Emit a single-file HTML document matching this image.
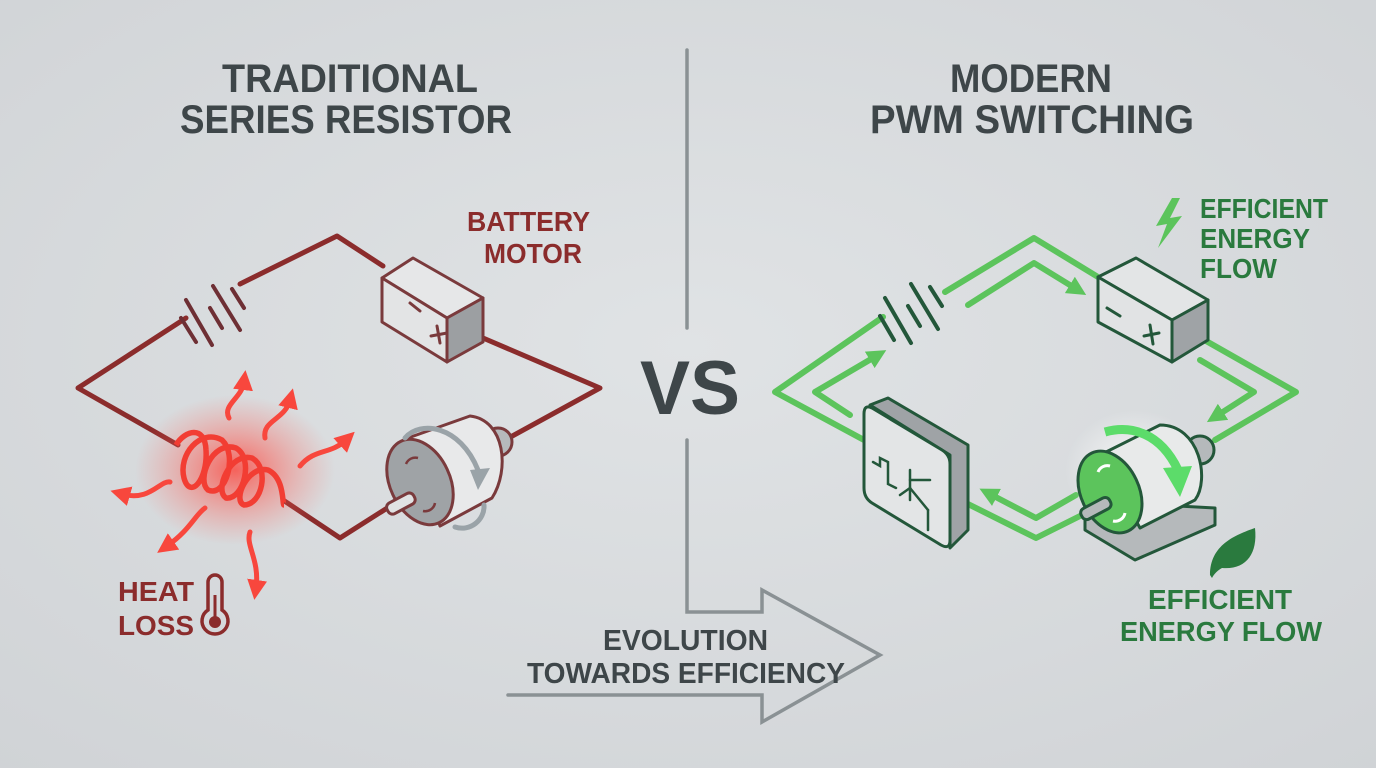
<!DOCTYPE html>
<html><head><meta charset="utf-8"><style>
html,body{margin:0;padding:0;}
body{width:1376px;height:768px;overflow:hidden;background:#d8dbdd;}
svg{display:block;}
text{font-family:"Liberation Sans",sans-serif;font-weight:bold;}
</style></head><body>
<svg width="1376" height="768" viewBox="0 0 1376 768" xmlns="http://www.w3.org/2000/svg">
<defs>
<radialGradient id="bg" cx="50%" cy="45%" r="75%">
<stop offset="0" stop-color="#e0e3e5"/><stop offset="1" stop-color="#d0d3d6"/>
</radialGradient>
<radialGradient id="glow" cx="50%" cy="50%" r="50%">
<stop offset="0" stop-color="#ff3a30" stop-opacity="0.75"/><stop offset="0.6" stop-color="#ff5a50" stop-opacity="0.3"/><stop offset="1" stop-color="#ff6a60" stop-opacity="0"/>
</radialGradient>
<radialGradient id="gglow" cx="50%" cy="50%" r="50%">
<stop offset="0" stop-color="#ffffff" stop-opacity="0.8"/><stop offset="1" stop-color="#ffffff" stop-opacity="0"/>
</radialGradient>
<marker id="ra" viewBox="0 0 10 10" refX="4" refY="5" markerWidth="4" markerHeight="4" orient="auto"><path d="M0,0 L10,5 L0,10 z" fill="#f8473d"/></marker>
<marker id="ga" viewBox="0 0 10 10" refX="5" refY="5" markerWidth="3.2" markerHeight="3.2" orient="auto"><path d="M0,0 L10,5 L0,10 z" fill="#5cc45c"/></marker>
</defs>
<rect width="1376" height="768" fill="url(#bg)"/>

<g fill="#3e4649" font-size="40">
<text x="222" y="92" textLength="256" lengthAdjust="spacingAndGlyphs">TRADITIONAL</text>
<text x="180" y="133" textLength="332" lengthAdjust="spacingAndGlyphs">SERIES RESISTOR</text>
<text x="950" y="92" textLength="162" lengthAdjust="spacingAndGlyphs">MODERN</text>
<text x="870" y="133" textLength="324" lengthAdjust="spacingAndGlyphs">PWM SWITCHING</text>
<text x="640" y="414" font-size="76" textLength="100" lengthAdjust="spacingAndGlyphs">VS</text>
</g>

<g stroke="#8a9194" stroke-width="3.5" fill="none" stroke-linecap="round">
<line x1="687" y1="50" x2="687" y2="328"/>
<polyline points="687,440 687,612 762,612 762,590 880,655 762,722 762,695 508,695"/>
</g>
<g fill="#3e4649" font-size="29">
<text x="603" y="650" textLength="165" lengthAdjust="spacingAndGlyphs">EVOLUTION</text>
<text x="527" y="683" textLength="318" lengthAdjust="spacingAndGlyphs">TOWARDS EFFICIENCY</text>
</g>

<!-- LEFT circuit -->
<g stroke="#8b2c2c" stroke-width="5" fill="none" stroke-linejoin="round" stroke-linecap="round">
<polyline points="240,284 337,236 383,266"/>
<polyline points="186,318 78,388 178,445"/>
<polyline points="283,500 340,538 392,505"/>
<polyline points="476,335 600,388 505,440"/>
</g>
<g stroke="#6e2f34" stroke-width="4" stroke-linecap="round">
<line x1="181" y1="318" x2="196" y2="342"/>
<line x1="186" y1="300" x2="212" y2="345"/>
<line x1="210" y1="308" x2="222" y2="328"/>
<line x1="213" y1="286" x2="240" y2="330"/>
<line x1="232" y1="289" x2="244" y2="308"/>
</g>
<g stroke="#7a3a3c" stroke-width="3" stroke-linejoin="round">
<polygon points="382,278 413,258 483,298 447,318" fill="#e6e7e8"/>
<polygon points="382,278 447,318 447,362 382,322" fill="#e3e4e5"/>
<polygon points="447,318 483,298 483,342 447,362" fill="#9c9fa2"/>
</g>
<g stroke="#7a3a3c" stroke-width="3" stroke-linecap="round">
<line x1="410" y1="303" x2="420" y2="311"/>
<line x1="437" y1="326" x2="440" y2="343"/>
<line x1="431" y1="336" x2="447" y2="333"/>
</g>
<ellipse cx="235" cy="470" rx="100" ry="75" fill="url(#glow)"/>
<g stroke="#f23d33" stroke-width="5.5" fill="none">
<path d="M176,445 C185,430 205,425 206,450 C208,480 190,500 184,478 C178,455 200,428 222,440 C238,455 226,498 208,490 C196,480 212,440 236,448 C254,458 244,500 226,498 C214,490 230,452 252,458 C270,468 262,505 244,505 C232,500 248,465 268,470 C285,478 282,505 284,505"/>
</g>
<g stroke="#f8473d" stroke-width="5" fill="none" stroke-linecap="round" marker-end="url(#ra)">
<path d="M229,418 C222,405 242,398 244,382"/>
<path d="M265,438 C262,420 285,420 290,400"/>
<path d="M300,466 C315,448 330,455 346,440"/>
<path d="M170,482 C160,480 150,502 122,494"/>
<path d="M205,508 C195,515 190,530 167,546"/>
<path d="M250,532 C245,545 260,560 256,588"/>
</g>
<g stroke="#7a3a3c" stroke-width="3" stroke-linejoin="round">
<circle cx="498" cy="442" r="14" fill="#b6b9bc"/>
<path d="M408,438 L470,416 C505,420 510,470 492,498 L440,526 Z" fill="#e8e9ea"/>
<ellipse cx="420" cy="482" rx="30" ry="45" transform="rotate(-25 420 482)" fill="#9fa3a6"/>
<rect x="386" y="498" width="30" height="12" rx="5" transform="rotate(-28 400 504)" fill="#e1e2e3"/>
</g>
<g stroke="#7a3a3c" stroke-width="2.5" fill="none"><path d="M406,464 a10,10 0 0 1 12,-6"/><path d="M435,503 a10,10 0 0 1 -12,8"/></g>
<g stroke="#9aa3a8" stroke-width="5" fill="none" stroke-linecap="round">
<path d="M405,438 C420,420 460,425 478,470"/>
<path d="M455,527 C470,532 485,520 484,505"/>
</g>
<path d="M470,470 L490,468 L478,490 z" fill="#9aa3a8"/>

<g fill="#8b2c2c" font-size="28">
<text x="467" y="231" textLength="123" lengthAdjust="spacingAndGlyphs">BATTERY</text>
<text x="484" y="263" textLength="98" lengthAdjust="spacingAndGlyphs">MOTOR</text>
<text x="118" y="601" textLength="76" lengthAdjust="spacingAndGlyphs">HEAT</text>
<text x="118" y="635" textLength="76" lengthAdjust="spacingAndGlyphs">LOSS</text>
</g>
<g stroke="#8b2c2c" stroke-width="3.5" fill="none">
<path d="M208,610 L208,582 a7,7 0 0 1 14,0 L222,610 a13,13 0 1 1 -14,0 z"/>
</g>
<circle cx="215" cy="622" r="6" fill="#8b2c2c"/>
<line x1="215" y1="595" x2="215" y2="620" stroke="#8b2c2c" stroke-width="3"/>

<!-- RIGHT circuit -->
<g stroke="#5cc45c" stroke-width="6" fill="none" stroke-linejoin="round" stroke-linecap="round">
<polyline points="945,292 1034,238 1098,277"/>
<polyline points="883,317 775,392 864,440"/>
<polyline points="1192,333 1296,392 1215,440"/>
<polyline points="960,500 1036,538 1082,515"/>
</g>
<g stroke="#5cc45c" stroke-width="6" fill="none" stroke-linejoin="round" stroke-linecap="round" marker-end="url(#ga)">
<polyline points="968,305 1034,263 1078,290"/>
<polyline points="1200,360 1254,392 1215,417"/>
<polyline points="1076,495 1036,518 988,493"/>
<polyline points="850,415 815,392 878,355"/>
</g>
<g stroke="#23573a" stroke-width="4" stroke-linecap="round">
<line x1="880" y1="316" x2="894" y2="340"/>
<line x1="885" y1="298" x2="911" y2="343"/>
<line x1="908" y1="306" x2="920" y2="326"/>
<line x1="911" y1="284" x2="938" y2="329"/>
<line x1="930" y1="287" x2="942" y2="306"/>
</g>
<g stroke="#23573a" stroke-width="3" stroke-linejoin="round">
<polygon points="1098,277 1136,258 1208,300 1172,320" fill="#e3e5e6"/>
<polygon points="1098,277 1172,320 1172,362 1098,322" fill="#e1e3e4"/>
<polygon points="1172,320 1208,300 1208,340 1172,362" fill="#9fa3a6"/>
</g>
<g stroke="#23573a" stroke-width="3" stroke-linecap="round">
<line x1="1107" y1="308" x2="1120" y2="316"/>
<line x1="1150" y1="325" x2="1153" y2="344"/>
<line x1="1144" y1="336" x2="1159" y2="333"/>
</g>
<g stroke="#23573a" stroke-width="3" stroke-linejoin="round">
<polygon points="870,405 888,398 968,445 968,530 950,548 950,455" fill="#9fa3a6"/>
<path d="M872,408 L942,450 Q950,455 950,464 L950,540 Q950,550 941,545 L872,503 Q864,498 864,488 L864,414 Q864,404 872,408 Z" fill="#e3e5e6"/>
</g>
<g stroke="#23573a" stroke-width="2.5" fill="none" stroke-linecap="round">
<polyline points="873,462 880,466 880,458 888,462 888,484 896,488"/>
<line x1="910" y1="470" x2="910" y2="500"/>
<line x1="910" y1="480" x2="930" y2="480"/>
<line x1="910" y1="488" x2="928" y2="510"/>
<line x1="928" y1="510" x2="928" y2="530"/>
<line x1="900" y1="495" x2="910" y2="488"/>
</g>
<ellipse cx="1135" cy="470" rx="70" ry="60" fill="url(#gglow)"/>
<g stroke="#23573a" stroke-width="3" stroke-linejoin="round">
<polygon points="1085,512 1105,502 1215,508 1215,525 1135,560 1085,530" fill="#b5b9bb"/>
<circle cx="1200" cy="450" r="14" fill="#b5b9bb"/>
<path d="M1100,455 L1160,425 C1200,425 1210,480 1195,500 L1140,528 Z" fill="#e8eaea"/>
<ellipse cx="1110" cy="492" rx="29" ry="43" transform="rotate(-25 1110 492)" fill="#5cc45c"/>
<rect x="1080" y="503" width="32" height="12" rx="5" transform="rotate(-28 1095 509)" fill="#b5b9bb"/>
</g>
<g stroke="#ffffff" stroke-width="3" fill="none"><path d="M1098,472 a10,10 0 0 1 12,-6"/><path d="M1125,513 a10,10 0 0 1 -12,8"/></g>
<path d="M1105,432 C1130,425 1160,432 1178,470" stroke="#5cdc6a" stroke-width="9" fill="none"/>
<path d="M1163,468 L1192,466 L1180,497 z" fill="#5cdc6a"/>

<path d="M1172,198 L1156,226 L1167,224 L1158,248 L1182,216 L1170,218 L1180,198 z" fill="#5cc45c"/>
<g fill="#2a7a3e" font-size="28">
<text x="1200" y="218" textLength="128" lengthAdjust="spacingAndGlyphs">EFFICIENT</text>
<text x="1200" y="248" textLength="110" lengthAdjust="spacingAndGlyphs">ENERGY</text>
<text x="1200" y="278" textLength="77" lengthAdjust="spacingAndGlyphs">FLOW</text>
<text x="1148" y="609" textLength="144" lengthAdjust="spacingAndGlyphs">EFFICIENT</text>
<text x="1120" y="641" textLength="202" lengthAdjust="spacingAndGlyphs">ENERGY FLOW</text>
</g>
<path d="M1210,575 C1210,545 1235,535 1255,528 C1258,555 1245,570 1222,568 C1218,570 1214,574 1212,578 Z" fill="#2a7a3e"/>
</svg>
</body></html>
